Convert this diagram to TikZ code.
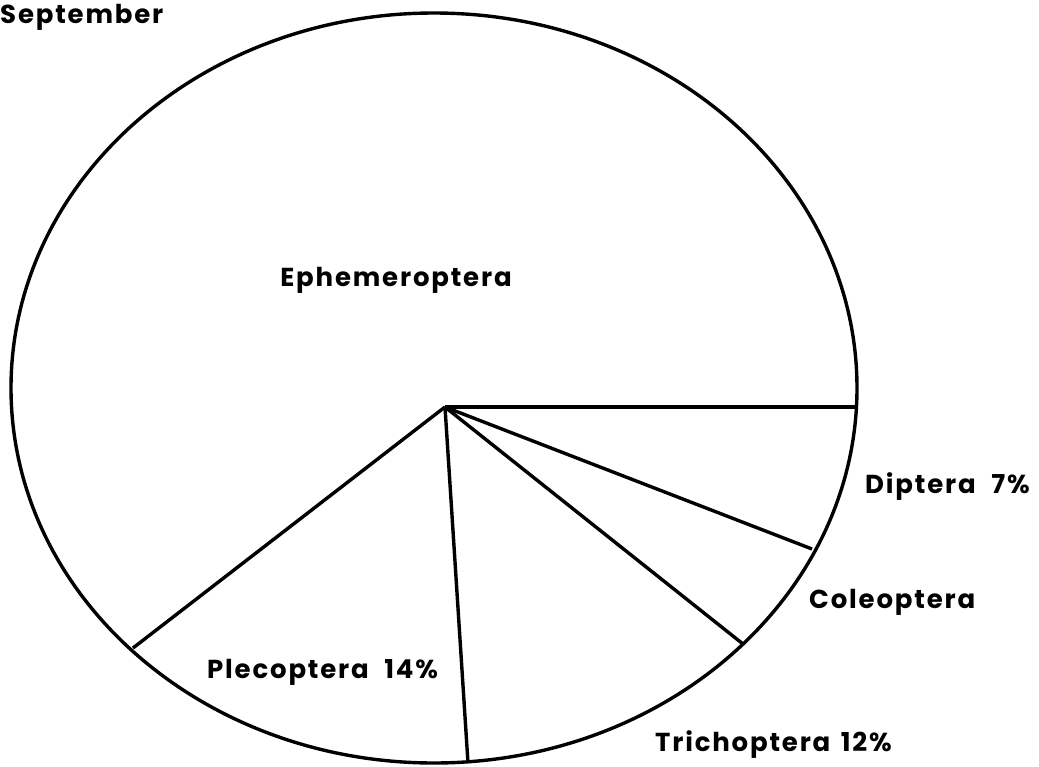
\documentclass[tikz,border=0pt]{standalone}
\usepackage{fontspec}
\setmainfont{Poppins}[BoldFont={* Bold}, BoldFeatures={LetterSpace=7}]
\begin{document}
\begin{tikzpicture}[x=1pt,y=-1pt,
  edge/.style={line width=3.4pt},
  lbl/.style={font=\bfseries\fontsize{26}{30}\selectfont, inner sep=0pt}]
\useasboundingbox (0,0) rectangle (1039,766);
\coordinate (c) at (445,407);
\coordinate (e0) at (857,407);
\coordinate (e1) at (812,549);
\coordinate (e2) at (743,644);
\coordinate (e3) at (468,763);
\coordinate (e4) at (133,648);
\draw[edge] (434,388) ellipse [x radius=423, y radius=375];
\draw[edge] (c) -- (e0);
\draw[edge] (c) -- (e1);
\draw[edge] (c) -- (e2);
\draw[edge] (c) -- (e3);
\draw[edge] (c) -- (e4);
\node[lbl, anchor=west] (sep) at (0,17) {September};
\node[lbl] (eph) at (396,280) {Ephemeroptera};
\node[lbl, anchor=west] (dip) at (865,487) {Diptera\hspace{0.6em}7\%};
\node[lbl, anchor=west] (col) at (809,602) {Coleoptera};
\node[lbl, anchor=west] (tri) at (655,745) {Trichoptera\hspace{0.4em}12\%};
\node[lbl, anchor=west] (ple) at (207,672) {Plecoptera\hspace{0.6em}14\%};
\end{tikzpicture}
\end{document}
